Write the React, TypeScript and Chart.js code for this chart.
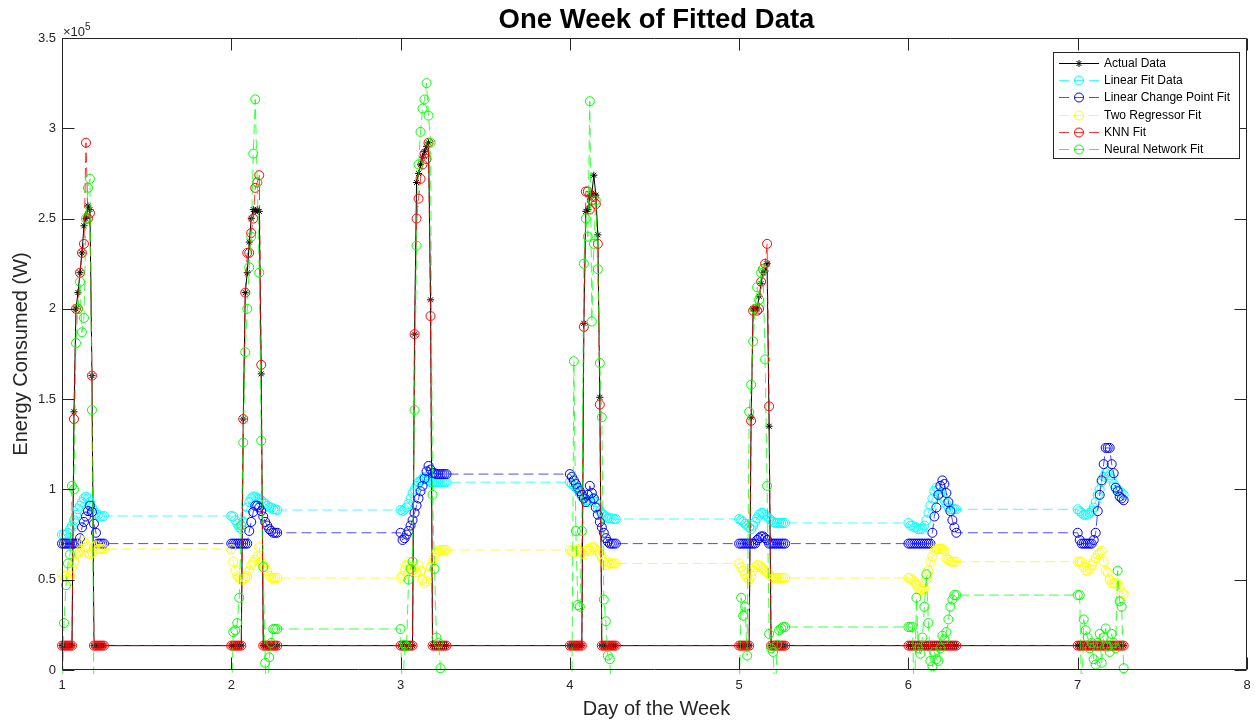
import React, { useEffect, useRef } from "react";
import { Chart, registerables } from "chart.js";

Chart.register(...registerables);

const DAYS = [1, 2, 3, 4, 5, 6, 7];
const SAMPLE_STEP = 0.0118;
const X_TICKS = [1, 2, 3, 4, 5, 6, 7, 8];
const Y_TICKS = [0, 0.5, 1, 1.5, 2, 2.5, 3, 3.5];
const SERIES_NAMES = [
  "Actual Data",
  "Linear Fit Data",
  "Linear Change Point Fit",
  "Two Regressor Fit",
  "KNN Fit",
  "Neural Network Fit",
];
const MARKER_COLORS = ["#000000", "#00ffff", "#0000ff", "#ffff00", "#ff0000", "#00ff00"];
const LINE_COLORS = [
  "#000000",
  "rgba(0,255,255,0.75)",
  "rgba(0,0,255,0.7)",
  "rgba(255,255,0,0.85)",
  "rgba(255,0,0,0.8)",
  "rgba(0,255,0,0.75)",
];

// values in units of 1e5 W, one inner array per day
const actualData = [
  [0.135, 0.135, 0.135, 0.135, 0.135, 0.135, 1.43, 2.0, 2.09, 2.2, 2.31, 2.46, 2.5, 2.57, 2.55, 1.63, 0.135, 0.135, 0.135, 0.135, 0.135, 0.135],
  [0.135, 0.135, 0.135, 0.135, 0.135, 0.135, 1.39, 2.09, 2.2, 2.37, 2.5, 2.55, 2.54, 2.55, 2.54, 1.64, 0.135, 0.135, 0.135, 0.135, 0.135, 0.135, 0.135, 0.135],
  [0.135, 0.135, 0.135, 0.135, 0.135, 0.135, 0.135, 1.86, 2.7, 2.75, 2.8, 2.84, 2.87, 2.9, 2.92, 2.05, 0.135, 0.135, 0.135, 0.135, 0.135, 0.135, 0.135, 0.135],
  [0.135, 0.135, 0.135, 0.135, 0.135, 0.135, 0.135, 1.92, 2.54, 2.55, 2.62, 2.64, 2.74, 2.63, 2.41, 1.51, 0.135, 0.135, 0.135, 0.135, 0.135, 0.135, 0.135, 0.135],
  [0.135, 0.135, 0.135, 0.135, 0.135, 0.135, 1.4, 2.0, 2.0, 2.0, 2.07, 2.14, 2.2, 2.21, 2.25, 1.35, 0.135, 0.135, 0.135, 0.135, 0.135, 0.135, 0.135, 0.135],
  [0.135, 0.135, 0.135, 0.135, 0.135, 0.135, 0.135, 0.135, 0.135, 0.135, 0.135, 0.135, 0.135, 0.135, 0.135, 0.135, 0.135, 0.135, 0.135, 0.135, 0.135, 0.135, 0.135, 0.135, 0.135],
  [0.135, 0.135, 0.135, 0.135, 0.135, 0.135, 0.135, 0.135, 0.135, 0.135, 0.135, 0.135, 0.135, 0.135, 0.135, 0.135, 0.135, 0.135, 0.135, 0.135, 0.135, 0.135, 0.135, 0.135],
];

const linearFitData = [
  [0.75, 0.75, 0.75, 0.76, 0.78, 0.8, 0.83, 0.86, 0.89, 0.91, 0.93, 0.95, 0.96, 0.95, 0.93, 0.9, 0.88, 0.87, 0.86, 0.85, 0.85, 0.853],
  [0.853, 0.85, 0.83, 0.81, 0.79, 0.78, 0.82, 0.86, 0.9, 0.93, 0.95, 0.96, 0.96, 0.95, 0.95, 0.94, 0.93, 0.92, 0.91, 0.9, 0.9, 0.89, 0.89, 0.886],
  [0.886, 0.88, 0.89, 0.9, 0.92, 0.95, 0.98, 1.0, 1.02, 1.04, 1.05, 1.06, 1.07, 1.06, 1.05, 1.04, 1.04, 1.04, 1.04, 1.04, 1.04, 1.04, 1.04, 1.04],
  [1.04, 1.03, 1.02, 1.01, 1.0, 0.98, 0.96, 0.95, 0.94, 0.93, 0.94, 0.95, 0.95, 0.93, 0.9, 0.88, 0.87, 0.86, 0.85, 0.84, 0.84, 0.84, 0.836, 0.836],
  [0.836, 0.83, 0.82, 0.81, 0.8, 0.79, 0.78, 0.8, 0.82, 0.84, 0.86, 0.87, 0.87, 0.86, 0.85, 0.84, 0.83, 0.82, 0.815, 0.814, 0.814, 0.814, 0.814, 0.814],
  [0.814, 0.8, 0.8, 0.79, 0.79, 0.78, 0.78, 0.78, 0.8, 0.83, 0.87, 0.91, 0.95, 0.99, 1.01, 1.0, 0.98, 0.96, 0.94, 0.92, 0.9, 0.89, 0.89, 0.89, 0.89],
  [0.89, 0.88, 0.87, 0.86, 0.86, 0.86, 0.87, 0.88, 0.9, 0.93, 0.97, 1.0, 1.04, 1.07, 1.09, 1.1, 1.08, 1.06, 1.03, 1.01, 1.0, 0.99, 0.98, 0.97],
];

const changePointData = [
  [0.7, 0.7, 0.7, 0.7, 0.7, 0.7, 0.7, 0.7, 0.7, 0.73, 0.79, 0.82, 0.85, 0.88, 0.91, 0.875, 0.81, 0.76, 0.7, 0.7, 0.7, 0.7],
  [0.7, 0.7, 0.7, 0.7, 0.7, 0.7, 0.7, 0.7, 0.7, 0.77, 0.82, 0.875, 0.91, 0.91, 0.9, 0.88, 0.85, 0.82, 0.8, 0.78, 0.77, 0.76, 0.76, 0.76],
  [0.76, 0.72, 0.73, 0.75, 0.77, 0.8, 0.83, 0.87, 0.91, 0.95, 0.99, 1.02, 1.06, 1.1, 1.13, 1.11, 1.09, 1.09, 1.085, 1.085, 1.085, 1.085, 1.085, 1.085],
  [1.085, 1.07, 1.05, 1.03, 1.01, 0.99, 0.97, 0.95, 0.93, 0.97, 1.02, 0.98, 0.95, 0.9, 0.86, 0.82, 0.79, 0.76, 0.73, 0.71, 0.7, 0.7, 0.7, 0.7],
  [0.7, 0.7, 0.7, 0.7, 0.7, 0.7, 0.7, 0.7, 0.7, 0.72, 0.73, 0.74, 0.74, 0.73, 0.72, 0.7, 0.7, 0.7, 0.7, 0.7, 0.7, 0.7, 0.7, 0.7],
  [0.7, 0.7, 0.7, 0.7, 0.7, 0.7, 0.7, 0.7, 0.7, 0.7, 0.7, 0.7, 0.76, 0.85, 0.9, 0.97, 1.02, 1.05, 1.03, 0.98, 0.93, 0.88, 0.83, 0.79, 0.76],
  [0.76, 0.72, 0.7, 0.7, 0.7, 0.7, 0.7, 0.7, 0.72, 0.76, 0.88, 0.97, 1.05, 1.14, 1.23, 1.23, 1.23, 1.14, 1.09, 1.01, 0.99, 0.96, 0.95, 0.94],
];

const twoRegressorData = [
  [0.53, 0.52, 0.52, 0.51, 0.52, 0.57, 0.6, 0.64, 0.65, 0.66, 0.72, 0.71, 0.68, 0.65, 0.64, 0.65, 0.68, 0.69, 0.67, 0.67, 0.67, 0.67],
  [0.67, 0.6, 0.55, 0.52, 0.51, 0.5, 0.5, 0.51, 0.52, 0.55, 0.58, 0.6, 0.61, 0.63, 0.68, 0.6, 0.58, 0.57, 0.55, 0.52, 0.51, 0.51, 0.51, 0.51],
  [0.51, 0.52, 0.55, 0.58, 0.6, 0.57, 0.55, 0.56, 0.54, 0.58, 0.55, 0.5, 0.48, 0.49, 0.53, 0.57, 0.6, 0.62, 0.65, 0.66, 0.665, 0.665, 0.665, 0.665],
  [0.665, 0.66, 0.65, 0.66, 0.67, 0.66, 0.65, 0.64, 0.66, 0.67, 0.66, 0.68, 0.68, 0.67, 0.66, 0.64, 0.62, 0.6, 0.58, 0.6, 0.59, 0.59, 0.59, 0.59],
  [0.59, 0.57, 0.55, 0.53, 0.51, 0.5, 0.52, 0.55, 0.57, 0.58, 0.58, 0.57, 0.56, 0.55, 0.54, 0.53, 0.52, 0.51, 0.51, 0.51, 0.51, 0.51, 0.51, 0.51],
  [0.51, 0.51, 0.5, 0.49, 0.47, 0.45, 0.44, 0.44, 0.45, 0.5, 0.55, 0.6, 0.63, 0.66, 0.67, 0.67, 0.67, 0.67, 0.66, 0.62, 0.61, 0.6, 0.6, 0.6, 0.6],
  [0.6, 0.6, 0.6, 0.57, 0.55, 0.55, 0.56, 0.58, 0.6, 0.62, 0.64, 0.65, 0.66, 0.6, 0.55, 0.54, 0.5, 0.48, 0.48, 0.48, 0.48, 0.46, 0.43, 0.42],
];

const knnData = [
  [0.135, 0.135, 0.135, 0.135, 0.135, 0.135, 1.39, 2.0, 2.0, 2.2, 2.31, 2.36, 2.92, 2.5, 2.53, 1.63, 0.135, 0.135, 0.135, 0.135, 0.135, 0.135],
  [0.135, 0.135, 0.135, 0.135, 0.135, 0.135, 1.39, 2.09, 2.31, 2.31, 2.42, 2.5, 2.67, 2.7, 2.74, 1.69, 0.135, 0.135, 0.135, 0.135, 0.135, 0.135, 0.135, 0.135],
  [0.135, 0.135, 0.135, 0.135, 0.135, 0.135, 0.135, 1.86, 2.5, 2.61, 2.72, 2.8, 2.86, 2.83, 2.92, 1.96, 0.135, 0.135, 0.135, 0.135, 0.135, 0.135, 0.135, 0.135],
  [0.135, 0.135, 0.135, 0.135, 0.135, 0.135, 0.135, 1.9, 2.65, 2.65, 2.55, 2.6, 2.62, 2.58, 2.36, 1.47, 0.135, 0.135, 0.135, 0.135, 0.135, 0.135, 0.135, 0.135],
  [0.135, 0.135, 0.135, 0.135, 0.135, 0.135, 1.38, 1.99, 2.0, 1.99, 2.0, 2.15, 2.22, 2.25, 2.36, 1.46, 0.135, 0.135, 0.135, 0.135, 0.135, 0.135, 0.135, 0.135],
  [0.135, 0.135, 0.135, 0.135, 0.135, 0.135, 0.135, 0.135, 0.135, 0.135, 0.135, 0.135, 0.135, 0.135, 0.135, 0.135, 0.135, 0.135, 0.135, 0.135, 0.135, 0.135, 0.135, 0.135, 0.135],
  [0.135, 0.135, 0.135, 0.135, 0.135, 0.135, 0.135, 0.135, 0.135, 0.135, 0.135, 0.135, 0.135, 0.135, 0.135, 0.135, 0.135, 0.135, 0.135, 0.135, 0.135, 0.135, 0.135, 0.135],
];

const neuralNetData = [
  [-0.2, 0.26, 0.47, 0.59, 0.64, 1.02, 1.0, 1.81, 2.0, 2.15, 1.87, 1.95, 2.5, 2.67, 2.72, 1.44, -0.2, -0.2, -0.2, -0.2, -0.2, -0.2],
  [-0.2, 0.21, 0.22, 0.26, 0.4, 0.8, 1.26, 1.76, 2.0, 2.23, 2.4, 2.86, 3.16, 2.7, 2.2, 1.27, 0.57, 0.04, -0.2, 0.07, 0.15, 0.227, 0.227, 0.227],
  [0.227, -0.2, 0.14, 0.13, 0.5, 0.56, 0.6, 1.44, 2.35, 2.8, 2.98, 3.11, 3.16, 3.25, 3.07, 2.92, 0.97, 0.56, 0.18, 0.15, 0.01, -0.2, -0.2, -0.2],
  [-0.2, -0.2, 1.71, 0.77, 0.36, 0.35, 0.77, 2.25, 2.5, 2.4, 3.15, 1.93, 2.36, 2.6, 2.22, 1.7, 1.4, 0.39, 0.27, 0.08, 0.06, -0.2, -0.2, -0.2],
  [-0.2, 0.4, 0.3, 0.35, 0.08, 1.43, 1.58, 1.82, 2.0, 2.12, 2.05, 2.2, 2.22, 1.72, 1.02, 0.2, 0.12, 0.1, -0.2, 0.14, 0.22, 0.23, 0.238, 0.238],
  [0.238, 0.238, 0.238, -0.2, 0.4, 0.12, 0.09, 0.18, 0.35, 0.53, 0.26, 0.05, 0.02, 0.1, 0.06, 0.05, 0.12, 0.19, 0.17, 0.21, 0.28, 0.35, 0.39, 0.415, 0.415],
  [0.415, 0.415, -0.2, 0.28, 0.22, 0.18, 0.12, 0.15, 0.06, 0.03, 0.15, 0.2, 0.04, 0.18, 0.23, 0.13, 0.1, 0.2, 0.15, 0.12, 0.55, 0.38, 0.35, 0.01],
];

const SERIES_DATA = [actualData, linearFitData, changePointData, twoRegressorData, knnData, neuralNetData];

const FONT = "'Liberation Sans', Arial, Helvetica, sans-serif";
const AXIS_COLOR = "#262626";

function toPoints(perDay: number[][]) {
  const pts: { x: number; y: number }[] = [];
  perDay.forEach((vals, i) => {
    vals.forEach((v, k) => pts.push({ x: DAYS[i] + k * SAMPLE_STEP, y: v }));
  });
  return pts;
}

function drawStar(ctx: CanvasRenderingContext2D, cx: number, cy: number, r: number) {
  ctx.beginPath();
  ctx.moveTo(cx - r, cy);
  ctx.lineTo(cx + r, cy);
  ctx.moveTo(cx, cy - r);
  ctx.lineTo(cx, cy + r);
  const d = r * Math.SQRT1_2;
  ctx.moveTo(cx - d, cy - d);
  ctx.lineTo(cx + d, cy + d);
  ctx.moveTo(cx - d, cy + d);
  ctx.lineTo(cx + d, cy - d);
  ctx.stroke();
}

const decorPlugin = {
  id: "matlabDecor",
  afterDraw(chart: any) {
    const { ctx, chartArea: a, scales } = chart;
    const xs = scales.x;
    const ys = scales.y;
    ctx.save();
    ctx.setLineDash([]);
    ctx.strokeStyle = AXIS_COLOR;
    ctx.lineWidth = 1;
    const L = Math.round(a.left) + 0.5;
    const R = Math.round(a.right) - 0.5;
    const T = Math.round(a.top) + 0.5;
    const B = Math.round(a.bottom) - 0.5;
    ctx.beginPath();
    ctx.rect(L, T, R - L, B - T);
    X_TICKS.forEach((v) => {
      const p = Math.round(xs.getPixelForValue(v)) + 0.5;
      ctx.moveTo(p, B);
      ctx.lineTo(p, B - 12);
      ctx.moveTo(p, T);
      ctx.lineTo(p, T + 12);
    });
    Y_TICKS.forEach((v) => {
      const p = Math.round(ys.getPixelForValue(v)) + 0.5;
      ctx.moveTo(L, p);
      ctx.lineTo(L + 12, p);
      ctx.moveTo(R, p);
      ctx.lineTo(R - 12, p);
    });
    ctx.stroke();

    // exponent
    ctx.fillStyle = AXIS_COLOR;
    ctx.textAlign = "left";
    ctx.textBaseline = "alphabetic";
    ctx.font = `13px ${FONT}`;
    ctx.fillText("\u00d710", a.left + 1, a.top - 2);
    const w = ctx.measureText("\u00d710").width;
    ctx.font = `10px ${FONT}`;
    ctx.fillText("5", a.left + 1 + w, a.top - 8);

    // title
    ctx.fillStyle = "#000";
    ctx.textAlign = "center";
    ctx.font = `bold 27.5px ${FONT}`;
    ctx.fillText("One Week of Fitted Data", (a.left + a.right) / 2 + 2, 28);

    // axis labels
    ctx.fillStyle = AXIS_COLOR;
    ctx.font = `20px ${FONT}`;
    ctx.fillText("Day of the Week", (a.left + a.right) / 2 + 2, 715);
    ctx.save();
    ctx.translate(27, (a.top + a.bottom) / 2);
    ctx.rotate(-Math.PI / 2);
    ctx.fillText("Energy Consumed (W)", 0, 0);
    ctx.restore();

    // legend
    const bx = 1053.5, by = 52.5, bw = 186, bh = 106;
    ctx.fillStyle = "#fff";
    ctx.fillRect(bx, by, bw, bh);
    ctx.strokeStyle = AXIS_COLOR;
    ctx.strokeRect(bx, by, bw, bh);
    ctx.font = `12px ${FONT}`;
    ctx.textBaseline = "middle";
    ctx.textAlign = "left";
    SERIES_NAMES.forEach((name, i) => {
      const cy = Math.round(63 + i * 17.2) + 0.5;
      ctx.strokeStyle = LINE_COLORS[i];
      ctx.lineWidth = 1;
      ctx.setLineDash(i === 0 ? [] : [10, 5]);
      ctx.beginPath();
      ctx.moveTo(1059, cy);
      ctx.lineTo(1099, cy);
      ctx.stroke();
      ctx.setLineDash([]);
      ctx.strokeStyle = MARKER_COLORS[i];
      if (i === 0) {
        drawStar(ctx, 1079, cy, 3.5);
      } else {
        ctx.beginPath();
        ctx.arc(1079, cy, 4.5, 0, Math.PI * 2);
        ctx.stroke();
      }
      ctx.fillStyle = "#000";
      ctx.fillText(name, 1104, cy);
    });
    ctx.restore();
  },
};

export default function App() {
  const ref = useRef<HTMLCanvasElement>(null);
  useEffect(() => {
    const datasets = SERIES_DATA.map((d, i) => ({
      label: SERIES_NAMES[i],
      data: toPoints(d),
      borderColor: LINE_COLORS[i],
      borderWidth: 1,
      borderDash: i === 0 ? [] : [10, 5],
      pointStyle: i === 0 ? "star" : "circle",
      pointRadius: i === 0 ? 3.5 : 4.5,
      pointBorderColor: MARKER_COLORS[i],
      pointBackgroundColor: "rgba(0,0,0,0)",
      pointBorderWidth: 1,
      tension: 0,
      order: 6 - i,
      clip: { left: 8, right: 8, top: 8, bottom: 4 },
    }));
    const chart = new Chart(ref.current as HTMLCanvasElement, {
      type: "line",
      data: { datasets } as any,
      options: {
        responsive: false,
        animation: false,
        events: [],
        layout: { padding: { top: 38, right: 12, left: 0, bottom: 0 } },
        plugins: { legend: { display: false }, title: { display: false }, tooltip: { enabled: false } },
        scales: {
          x: {
            type: "linear",
            min: 1,
            max: 8,
            grid: { display: false, drawTicks: false },
            border: { display: false },
            ticks: { stepSize: 1, padding: 8, color: AXIS_COLOR, font: { family: FONT, size: 13 }, maxRotation: 0 },
            afterFit: (s: any) => {
              s.height = 53;
            },
          },
          y: {
            type: "linear",
            min: 0,
            max: 3.5,
            grid: { display: false, drawTicks: false },
            border: { display: false },
            ticks: {
              stepSize: 0.5,
              padding: 6,
              color: AXIS_COLOR,
              font: { family: FONT, size: 13 },
              callback: (v: any) => String(v),
            },
            afterFit: (s: any) => {
              s.width = 62;
            },
          },
        },
      } as any,
      plugins: [decorPlugin],
    });
    return () => chart.destroy();
  }, []);
  return (
    <div style={{ position: "fixed", left: 0, top: 0, width: 1259, height: 723, background: "#fff" }}>
      <canvas ref={ref} width={1259} height={723} style={{ display: "block" }} />
    </div>
  );
}
